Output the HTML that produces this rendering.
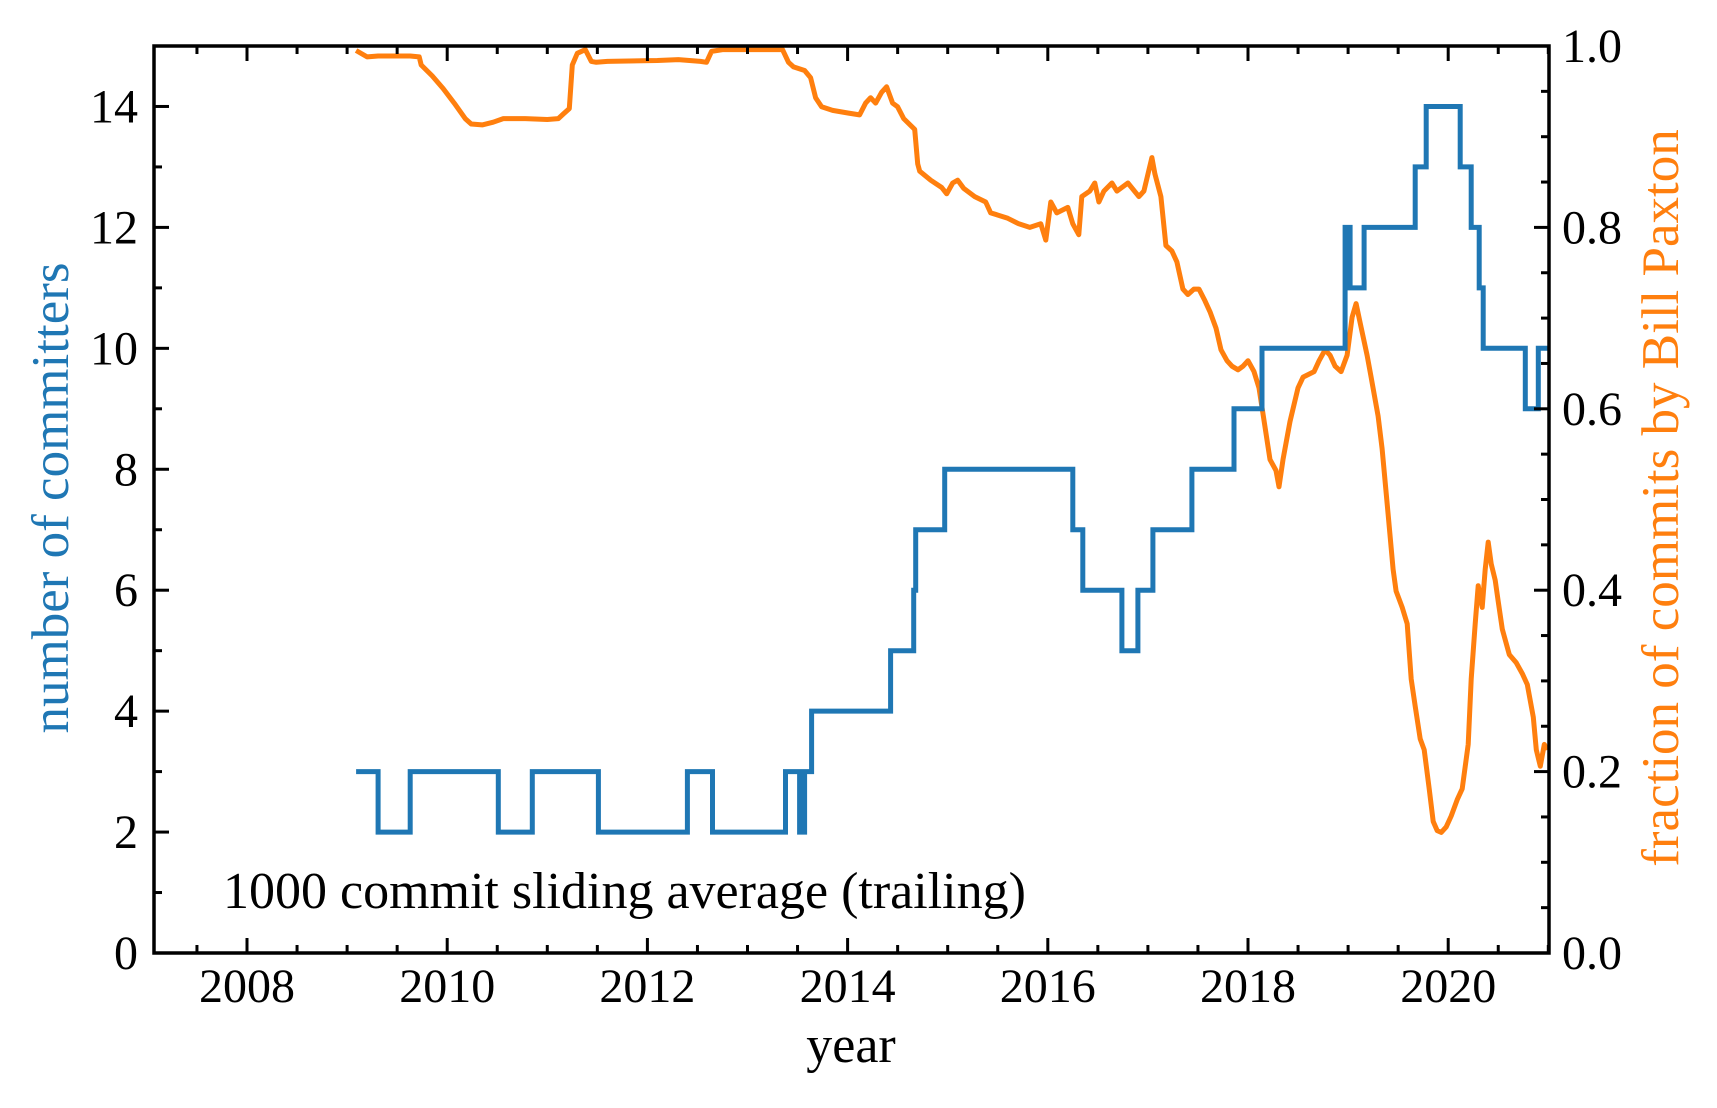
<!DOCTYPE html>
<html><head><meta charset="utf-8"><style>
html,body{margin:0;padding:0;background:#fff;}
svg text{font-family:"Liberation Serif",serif;}
</style></head><body>
<svg id="chart" width="1717" height="1103" xmlns="http://www.w3.org/2000/svg">
<g id="marks"></g>
<g id="axes"></g>
</svg>
<script>
const stepYears=[2009.09,2009.31,2009.63,2010.51,2010.85,2011.51,2012.40,2012.65,2013.38,2013.52,2013.57,2013.64,2014.43,2014.66,2014.68,2014.97,2016.25,2016.35,2016.74,2016.90,2017.05,2017.44,2017.86,2018.14,2018.97,2019.02,2019.16,2019.67,2019.78,2020.12,2020.23,2020.31,2020.35,2020.77,2020.90];
const stepValues=[3,2,3,2,3,2,3,2,3,2,3,4,5,6,7,8,7,6,5,6,7,8,9,10,12,11,12,13,14,13,12,11,10,9,10];
const stepEnd=2021.0;
const fracYears=[2009.09,2009.20,2009.31,2009.42,2009.63,2009.72,2009.74,2009.85,2009.96,2010.07,2010.18,2010.24,2010.35,2010.46,2010.56,2010.78,2011.00,2011.11,2011.16,2011.22,2011.25,2011.30,2011.38,2011.44,2011.49,2011.60,2012.10,2012.31,2012.53,2012.59,2012.64,2012.75,2013.08,2013.35,2013.41,2013.46,2013.57,2013.63,2013.68,2013.74,2013.85,2014.01,2014.12,2014.18,2014.23,2014.28,2014.34,2014.39,2014.45,2014.50,2014.56,2014.67,2014.70,2014.72,2014.83,2014.94,2014.99,2015.05,2015.10,2015.16,2015.27,2015.38,2015.43,2015.49,2015.60,2015.71,2015.82,2015.93,2015.98,2016.03,2016.09,2016.20,2016.25,2016.31,2016.34,2016.42,2016.47,2016.51,2016.56,2016.64,2016.69,2016.80,2016.91,2016.96,2017.04,2017.07,2017.13,2017.18,2017.24,2017.29,2017.35,2017.40,2017.46,2017.51,2017.57,2017.62,2017.68,2017.73,2017.79,2017.84,2017.90,2017.95,2018.00,2018.06,2018.11,2018.17,2018.22,2018.28,2018.31,2018.35,2018.42,2018.50,2018.55,2018.66,2018.71,2018.77,2018.82,2018.87,2018.93,2018.99,2019.04,2019.08,2019.12,2019.19,2019.23,2019.30,2019.34,2019.37,2019.40,2019.45,2019.48,2019.54,2019.59,2019.63,2019.67,2019.72,2019.76,2019.81,2019.85,2019.89,2019.93,2019.98,2020.03,2020.09,2020.14,2020.20,2020.23,2020.27,2020.30,2020.34,2020.37,2020.40,2020.43,2020.47,2020.50,2020.54,2020.61,2020.68,2020.74,2020.79,2020.85,2020.88,2020.92,2020.96,2020.99];
const fracValues=[.995,.988,.989,.989,.989,.988,.979,.967,.953,.937,.920,.914,.913,.916,.920,.920,.919,.920,.925,.931,.979,.992,.996,.983,.982,.983,.984,.985,.983,.982,.994,.996,.996,.996,.982,.977,.973,.965,.943,.933,.929,.926,.924,.937,.943,.937,.949,.955,.937,.933,.920,.908,.870,.862,.852,.844,.837,.849,.852,.843,.834,.828,.816,.814,.810,.804,.800,.804,.786,.828,.816,.822,.804,.792,.834,.840,.849,.828,.840,.849,.840,.849,.834,.840,.877,.859,.834,.780,.774,.762,.732,.726,.732,.732,.719,.707,.689,.665,.653,.647,.643,.647,.653,.641,.623,.580,.544,.532,.514,.544,.586,.623,.635,.641,.653,.665,.659,.647,.641,.659,.701,.716,.695,.659,.635,.592,.556,.520,.484,.423,.399,.381,.363,.302,.272,.236,.224,.181,.145,.135,.133,.139,.151,.169,.181,.230,.302,.363,.405,.381,.423,.453,.429,.411,.387,.357,.329,.320,.308,.296,.260,.224,.206,.230,.224];
const xTicks=[2008,2010,2012,2014,2016,2018,2020];
const yLeftTicks=[0,2,4,6,8,10,12,14];
const yRightTicks=[0.0,0.2,0.4,0.6,0.8,1.0];

const L=154,R=1549,T=46,B=953;
const X=y=>247+(y-2008)*100.1;
const YL=v=>B-v*(B-T)/15;
const YR=f=>B-f*(B-T);
const NS="http://www.w3.org/2000/svg";
const marks=document.getElementById('marks'),axes=document.getElementById('axes');
function mk(tag,attrs,parent){const e=document.createElementNS(NS,tag);for(const k in attrs)e.setAttribute(k,attrs[k]);parent.appendChild(e);return e;}

let d='';
fracYears.forEach((y,i)=>{d+=(i?'L':'M')+X(y).toFixed(1)+','+YR(fracValues[i]).toFixed(1);});
const orange=mk('path',{d:d,fill:'none',stroke:'#ff7f0e','stroke-width':5,'stroke-linejoin':'round'},marks);


let s='';
stepYears.forEach((y,i)=>{const yy=YL(stepValues[i]).toFixed(1);if(i===0)s+='M'+X(y).toFixed(1)+','+yy;else s+='L'+X(y).toFixed(1)+','+YL(stepValues[i-1]).toFixed(1)+'L'+X(y).toFixed(1)+','+yy;});
s+='L'+X(stepEnd).toFixed(1)+','+YL(stepValues[stepValues.length-1]).toFixed(1);
const blue=mk('path',{d:s,fill:'none',stroke:'#1f77b4','stroke-width':5,'stroke-linejoin':'miter'},marks);



const frame=mk('rect',{x:L,y:T,width:R-L,height:B-T,fill:'none',stroke:'#000','stroke-width':3.5},axes);


function tick(x1,y1,x2,y2){mk('line',{x1:x1,y1:y1,x2:x2,y2:y2,stroke:'#000','stroke-width':3},axes);}
for(let y=2007.5;y<=2021.01;y+=0.5){const x=X(y);if(x<L||x>R)continue;const major=Math.abs(y-Math.round(y/2)*2)<0.01;const len=major?15:8;tick(x,B,x,B-len);tick(x,T,x,T+len);}
xTicks.forEach(v=>{const t=mk('text',{x:X(v),y:1002,'font-size':48,'text-anchor':'middle',fill:'#000'},axes);t.textContent=v;

});
for(let v=0;v<=15;v++){const y=YL(v);tick(L,y,L+(v%2===0?15:8),y);}
yLeftTicks.forEach(v=>{const t=mk('text',{x:138,y:YL(v)+16,'font-size':48,'text-anchor':'end',fill:'#000'},axes);t.textContent=v;

});
for(let i=0;i<=20;i++){const f=i*0.05;const y=YR(f);tick(R,y,R-(i%4===0?15:8),y);}
yRightTicks.forEach(v=>{const t=mk('text',{x:1562,y:YR(v)+16,'font-size':48,'text-anchor':'start',fill:'#000'},axes);t.textContent=v.toFixed(1);

});
</script>
<svg style="position:absolute;left:0;top:0" width="1717" height="1103" xmlns="http://www.w3.org/2000/svg">
<text x="851" y="1062" font-size="52" text-anchor="middle" fill="#000" font-family="Liberation Serif, serif">year</text>
<text transform="translate(68,498) rotate(-90)" font-size="53" text-anchor="middle" fill="#1f77b4" font-family="Liberation Serif, serif">number of committers</text>
<text transform="translate(1678,498) rotate(-90)" font-size="53" text-anchor="middle" fill="#ff7f0e" font-family="Liberation Serif, serif">fraction of commits by Bill Paxton</text>
<text x="223" y="908" font-size="52" fill="#000" font-family="Liberation Serif, serif">1000 commit sliding average (trailing)</text>
</svg>
</body></html>
